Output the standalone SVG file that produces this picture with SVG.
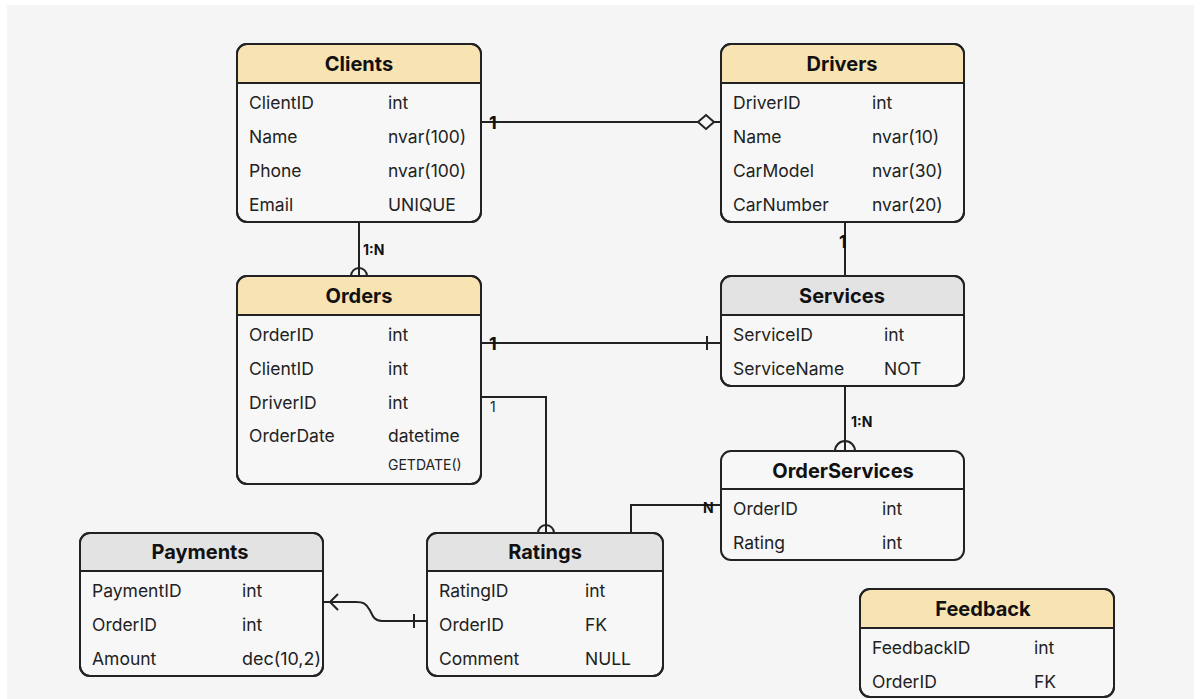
<svg xmlns="http://www.w3.org/2000/svg" width="1201" height="699" viewBox="0 0 1201 699">
  <style>
    .box { fill: #f7f7f7; stroke: #222; stroke-width: 2; }
    .hdr-y { fill: #f8e3b3; }
    .hdr-g { fill: #e3e3e3; }
    .sep { stroke: #222; stroke-width: 2; }
    .title { font-family: Inter, "Liberation Sans", sans-serif; font-weight: 700; font-size: 20px; fill: #111; text-anchor: middle; }
    .f { font-family: Inter, "Liberation Sans", sans-serif; font-size: 17.5px; fill: #222; }
    .small { font-family: Inter, "Liberation Sans", sans-serif; font-size: 14px; fill: #222; }
    .lbl { font-family: Inter, "Liberation Sans", sans-serif; font-weight: 700; font-size: 14px; fill: #111; }
    .one { font-family: Inter, "Liberation Sans", sans-serif; font-weight: 700; font-size: 18px; fill: #111; }
    .conn { fill: none; stroke: #222; stroke-width: 2; }
  </style>

  <rect x="0" y="0" width="1201" height="699" fill="#ffffff"/>
  <rect x="7" y="5" width="1187" height="694" fill="#f5f5f5"/>

  <!-- connectors -->
  <g id="connectors">
    <!-- Clients - Drivers -->
    <line class="conn" x1="481" y1="122" x2="698" y2="122"/>
    <line class="conn" x1="714" y1="122" x2="721" y2="122"/>
    <polygon points="698,122 706,115 714,122 706,129" fill="#f7f7f7" stroke="#222" stroke-width="2"/>
    <text class="one" x="489" y="129">1</text>

    <!-- Clients - Orders -->
    <line class="conn" x1="359" y1="222" x2="359" y2="276"/>
    <path class="conn" d="M351,276 A8,8 0 0 1 367,276"/>
    <text class="lbl" x="363" y="255">1:N</text>

    <!-- Drivers - Services -->
    <line class="conn" x1="845" y1="222" x2="845" y2="276"/>
    <text class="one" x="839" y="248">1</text>

    <!-- Orders - Services -->
    <line class="conn" x1="481" y1="343" x2="721" y2="343"/>
    <line class="conn" x1="707" y1="336" x2="707" y2="350"/>
    <text class="one" x="489" y="350">1</text>

    <!-- Orders - Ratings -->
    <path class="conn" d="M481,397 H546 V533"/>
    <path class="conn" d="M538,533 A8,8 0 0 1 554,533"/>
    <text class="small" x="490" y="412">1</text>

    <!-- Services - OrderServices -->
    <line class="conn" x1="845" y1="386" x2="845" y2="451"/>
    <path class="conn" d="M835,451 A10,10 0 0 1 855,451"/>
    <text class="lbl" x="851" y="427">1:N</text>

    <!-- Ratings - OrderServices -->
    <path class="conn" d="M631,533 V505 H721"/>
    <text class="lbl" x="703" y="513">N</text>

    <!-- Ratings - Payments -->
    <path class="conn" d="M427,621 H382 C372,621 372,612 369,609 C366,604 364,602 356,602 H323"/>
    <line class="conn" x1="414" y1="614" x2="414" y2="628"/>
    <polyline class="conn" points="338,594 330,602 338,610"/>
  </g>

  <!-- Clients -->
  <g id="clients">
    <rect class="box" x="237" y="44" width="244" height="178" rx="10"/>
    <path class="hdr-y" d="M238,83 V54 A9,9 0 0 1 247,45 H471 A9,9 0 0 1 480,54 V83 Z"/>
    <line class="sep" x1="237" y1="83" x2="481" y2="83"/>
    <rect x="237" y="44" width="244" height="178" rx="10" fill="none" stroke="#222" stroke-width="2"/>
    <text class="title" x="359" y="71">Clients</text>
    <text class="f" x="249" y="109">ClientID</text><text class="f" x="388" y="109">int</text>
    <text class="f" x="249" y="143">Name</text><text class="f" x="388" y="143">nvar(100)</text>
    <text class="f" x="249" y="177">Phone</text><text class="f" x="388" y="177">nvar(100)</text>
    <text class="f" x="249" y="211">Email</text><text class="f" x="388" y="211">UNIQUE</text>
  </g>

  <!-- Drivers -->
  <g id="drivers">
    <rect class="box" x="721" y="44" width="243" height="178" rx="10"/>
    <path class="hdr-y" d="M722,83 V54 A9,9 0 0 1 731,45 H954 A9,9 0 0 1 963,54 V83 Z"/>
    <line class="sep" x1="721" y1="83" x2="964" y2="83"/>
    <rect x="721" y="44" width="243" height="178" rx="10" fill="none" stroke="#222" stroke-width="2"/>
    <text class="title" x="842" y="71">Drivers</text>
    <text class="f" x="733" y="109">DriverID</text><text class="f" x="872" y="109">int</text>
    <text class="f" x="733" y="143">Name</text><text class="f" x="872" y="143">nvar(10)</text>
    <text class="f" x="733" y="177">CarModel</text><text class="f" x="872" y="177">nvar(30)</text>
    <text class="f" x="733" y="211">CarNumber</text><text class="f" x="872" y="211">nvar(20)</text>
  </g>

  <!-- Orders -->
  <g id="orders">
    <rect class="box" x="237" y="276" width="244" height="208" rx="10"/>
    <path class="hdr-y" d="M238,315 V286 A9,9 0 0 1 247,277 H471 A9,9 0 0 1 480,286 V315 Z"/>
    <line class="sep" x1="237" y1="315" x2="481" y2="315"/>
    <rect x="237" y="276" width="244" height="208" rx="10" fill="none" stroke="#222" stroke-width="2"/>
    <text class="title" x="359" y="303">Orders</text>
    <text class="f" x="249" y="341">OrderID</text><text class="f" x="388" y="341">int</text>
    <text class="f" x="249" y="375">ClientID</text><text class="f" x="388" y="375">int</text>
    <text class="f" x="249" y="409">DriverID</text><text class="f" x="388" y="409">int</text>
    <text class="f" x="249" y="442">OrderDate</text><text class="f" x="388" y="442">datetime</text>
    <text class="small" x="388" y="470">GETDATE()</text>
  </g>

  <!-- Services -->
  <g id="services">
    <rect class="box" x="721" y="276" width="243" height="110" rx="10"/>
    <path class="hdr-g" d="M722,315 V286 A9,9 0 0 1 731,277 H954 A9,9 0 0 1 963,286 V315 Z"/>
    <line class="sep" x1="721" y1="315" x2="964" y2="315"/>
    <rect x="721" y="276" width="243" height="110" rx="10" fill="none" stroke="#222" stroke-width="2"/>
    <text class="title" x="842" y="303">Services</text>
    <text class="f" x="733" y="341">ServiceID</text><text class="f" x="884" y="341">int</text>
    <text class="f" x="733" y="375">ServiceName</text><text class="f" x="884" y="375">NOT</text>
  </g>

  <!-- OrderServices -->
  <g id="orderservices">
    <rect class="box" x="721" y="451" width="243" height="109" rx="10"/>
    <line class="sep" x1="721" y1="489" x2="964" y2="489"/>
    <text class="title" x="843" y="478">OrderServices</text>
    <text class="f" x="733" y="515">OrderID</text><text class="f" x="882" y="515">int</text>
    <text class="f" x="733" y="549">Rating</text><text class="f" x="882" y="549">int</text>
  </g>

  <!-- Payments -->
  <g id="payments">
    <rect class="box" x="80" y="533" width="243" height="143" rx="10"/>
    <path class="hdr-g" d="M81,571 V543 A9,9 0 0 1 90,534 H313 A9,9 0 0 1 322,543 V571 Z"/>
    <line class="sep" x1="80" y1="571" x2="323" y2="571"/>
    <rect x="80" y="533" width="243" height="143" rx="10" fill="none" stroke="#222" stroke-width="2"/>
    <text class="title" x="200" y="559">Payments</text>
    <text class="f" x="92" y="597">PaymentID</text><text class="f" x="242" y="597">int</text>
    <text class="f" x="92" y="631">OrderID</text><text class="f" x="242" y="631">int</text>
    <text class="f" x="92" y="665">Amount</text><text class="f" x="242" y="665" textLength="79" lengthAdjust="spacingAndGlyphs">dec(10,2)</text>
  </g>

  <!-- Ratings -->
  <g id="ratings">
    <rect class="box" x="427" y="533" width="236" height="143" rx="10"/>
    <path class="hdr-g" d="M428,571 V543 A9,9 0 0 1 437,534 H653 A9,9 0 0 1 662,543 V571 Z"/>
    <line class="sep" x1="427" y1="571" x2="663" y2="571"/>
    <rect x="427" y="533" width="236" height="143" rx="10" fill="none" stroke="#222" stroke-width="2"/>
    <text class="title" x="545" y="559">Ratings</text>
    <text class="f" x="439" y="597">RatingID</text><text class="f" x="585" y="597">int</text>
    <text class="f" x="439" y="631">OrderID</text><text class="f" x="585" y="631">FK</text>
    <text class="f" x="439" y="665">Comment</text><text class="f" x="585" y="665">NULL</text>
  </g>

  <!-- Feedback -->
  <g id="feedback">
    <rect class="box" x="860" y="589" width="254" height="108" rx="10"/>
    <path class="hdr-y" d="M861,628 V599 A9,9 0 0 1 870,590 H1104 A9,9 0 0 1 1113,599 V628 Z"/>
    <line class="sep" x1="860" y1="628" x2="1114" y2="628"/>
    <rect x="860" y="589" width="254" height="108" rx="10" fill="none" stroke="#222" stroke-width="2"/>
    <text class="title" x="983" y="616">Feedback</text>
    <text class="f" x="872" y="654">FeedbackID</text><text class="f" x="1034" y="654">int</text>
    <text class="f" x="872" y="688">OrderID</text><text class="f" x="1034" y="688">FK</text>
  </g>
</svg>
